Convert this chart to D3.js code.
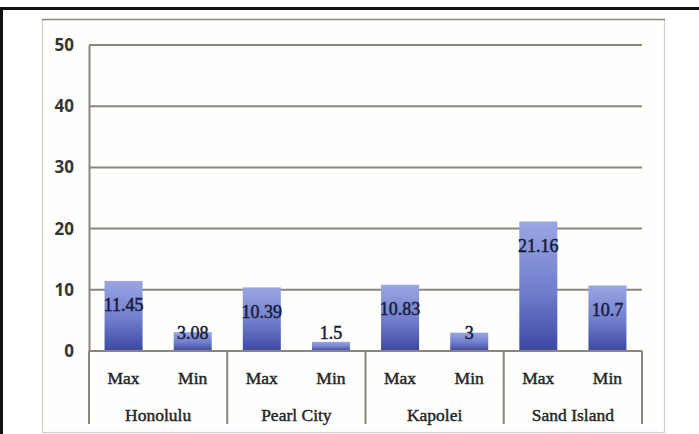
<!DOCTYPE html>
<html>
<head>
<meta charset="utf-8">
<script src="https://cdn.jsdelivr.net/npm/d3@7"></script>
<style>
  html, body { margin: 0; padding: 0; background: #ffffff; }
  svg { display: block; }
</style>
</head>
<body>
<svg id="chart" width="699" height="434"></svg>
<script>
// Stations and the two measures shown for each
const stations = ["Honolulu", "Pearl City", "Kapolei", "Sand Island"];
const measures = ["Max", "Min"];
// Values per station, in the order of `measures`
const maxValues = [11.45, 10.39, 10.83, 21.16];
const minValues = [3.08, 1.5, 3, 10.7];
const yTicks = [0, 10, 20, 30, 40, 50];

const rows = [];
stations.forEach((s, i) => {
  rows.push({ station: s, measure: "Max", value: maxValues[i] });
  rows.push({ station: s, measure: "Min", value: minValues[i] });
});

const svg = d3.select("#chart");
const W = 699, H = 434;

// Page frame: dark rule top and left, light panel inside
svg.append("line").attr("x1", 0).attr("x2", W).attr("y1", 8.5).attr("y2", 8.5)
  .attr("stroke", "#111").attr("stroke-width", 3);
svg.append("line").attr("x1", 1.5).attr("x2", 1.5).attr("y1", 7).attr("y2", H)
  .attr("stroke", "#111").attr("stroke-width", 3);

svg.append("rect").attr("x", 42.5).attr("y", 19.5).attr("width", 622).attr("height", 413)
  .attr("fill", "#fefefd").attr("stroke", "#d2cec6").attr("stroke-width", 1.2);
svg.append("line").attr("x1", 42).attr("x2", 665).attr("y1", 19.5).attr("y2", 19.5)
  .attr("stroke", "#8e887e").attr("stroke-width", 1.6);

const plot = { left: 89, right: 642, top: 45, bottom: 351 };

const y = d3.scaleLinear().domain([0, 50]).range([plot.bottom, plot.top]);
const x0 = d3.scaleBand().domain(stations).range([plot.left, plot.right]).padding(0);
const x1 = d3.scaleBand().domain(measures).range([0, x0.bandwidth()]).paddingInner(0.45).paddingOuter(0.225);

const gridColor = "#8a867f";
const serif = "'Liberation Serif', 'Times New Roman', serif";

// Horizontal gridlines
svg.append("g").selectAll("line").data(yTicks).join("line")
  .attr("x1", plot.left).attr("x2", plot.right)
  .attr("y1", d => y(d)).attr("y2", d => y(d))
  .attr("stroke", gridColor).attr("stroke-width", 2);

// Value axis
const yAxis = svg.append("g").attr("transform", `translate(${plot.left},0)`)
  .call(d3.axisLeft(y).tickValues(yTicks).tickSize(0).tickPadding(15));
yAxis.select(".domain").attr("stroke", gridColor).attr("stroke-width", 2);
yAxis.selectAll("text")
  .attr("font-family", "'Open Sans', sans-serif").attr("font-weight", "bold")
  .attr("font-size", 17).attr("fill", "#353535");

// Bar gradient: light at top, deep blue at the base
const defs = svg.append("defs");
const grad = defs.append("linearGradient").attr("id", "barFill")
  .attr("x1", 0).attr("y1", 0).attr("x2", 0).attr("y2", 1);
grad.append("stop").attr("offset", "0%").attr("stop-color", "#9aa6e3");
grad.append("stop").attr("offset", "55%").attr("stop-color", "#6f7dcc");
grad.append("stop").attr("offset", "100%").attr("stop-color", "#3a48a2");

const groups = svg.append("g").selectAll("g").data(stations).join("g")
  .attr("transform", d => `translate(${x0(d)},0)`);

groups.selectAll("rect")
  .data(s => rows.filter(r => r.station === s))
  .join("rect")
  .attr("x", d => x1(d.measure))
  .attr("width", x1.bandwidth())
  .attr("y", d => y(d.value))
  .attr("height", d => y(0) - y(d.value))
  .attr("fill", "url(#barFill)");

// Value labels inside the top of each bar, kept above the baseline for short bars
groups.selectAll("text.val")
  .data(s => rows.filter(r => r.station === s))
  .join("text").attr("class", "val")
  .attr("x", d => x1(d.measure) + x1.bandwidth() / 2)
  .attr("y", d => Math.min(y(d.value) + 24, y(0) - 18))
  .attr("dy", "0.35em")
  .attr("text-anchor", "middle")
  .attr("font-family", serif)
  .attr("font-size", 18)
  .attr("fill", "#171c38").attr("stroke", "#171c38").attr("stroke-width", 0.5)
  .text(d => d.value);

// Category axis: baseline, group separators, measure and station labels
svg.append("line").attr("x1", plot.left).attr("x2", plot.right)
  .attr("y1", y(0)).attr("y2", y(0)).attr("stroke", gridColor).attr("stroke-width", 2);

const seps = stations.map(s => x0(s)).concat([plot.right]);
svg.append("g").selectAll("line").data(seps).join("line")
  .attr("x1", d => d).attr("x2", d => d)
  .attr("y1", y(0)).attr("y2", 424)
  .attr("stroke", gridColor).attr("stroke-width", 2);

groups.selectAll("text.measure").data(measures).join("text").attr("class", "measure")
  .attr("x", d => x1(d) + x1.bandwidth() / 2)
  .attr("y", 378).attr("dy", "0.35em")
  .attr("text-anchor", "middle")
  .attr("font-family", serif)
  .attr("font-size", 17.5).attr("fill", "#262626")
  .attr("stroke", "#262626").attr("stroke-width", 0.45)
  .text(d => d);

groups.append("text")
  .attr("x", x0.bandwidth() / 2)
  .attr("y", 415).attr("dy", "0.35em")
  .attr("text-anchor", "middle")
  .attr("font-family", serif)
  .attr("font-size", 17.5).attr("fill", "#262626")
  .attr("stroke", "#262626").attr("stroke-width", 0.45)
  .text(d => d);
</script>
</body>
</html>
